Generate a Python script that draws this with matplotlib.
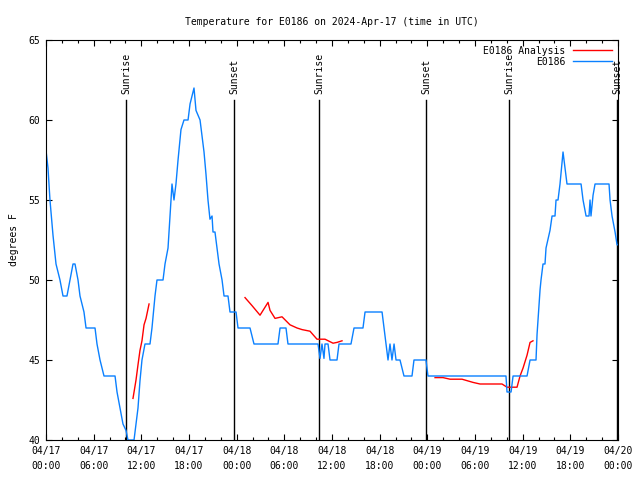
import numpy as np
import matplotlib
matplotlib.use('Agg')
import matplotlib.pyplot as plt

# hours since 2024-04-17 00:00 UTC
obs_hours = [0.0, 0.25, 0.5, 0.88, 1.26, 1.76, 2.14, 2.64, 3.02, 3.4, 3.65, 4.03, 4.28, 4.78, 5.04,
             6.17, 6.42, 6.8, 7.3, 8.69, 8.94, 9.32, 9.69, 10.07, 10.32, 11.08, 11.33, 11.58, 11.83,
             12.08, 12.46, 13.09, 13.34, 13.72, 13.97, 14.73, 14.98, 15.36, 15.61, 15.86, 16.11, 16.36,
             16.62, 16.99, 17.37, 17.88, 18.13, 18.63, 18.88, 19.39, 19.64, 19.89, 20.14, 20.39, 20.64,
             20.9, 21.02, 21.27, 21.53, 21.78, 22.16, 22.41, 22.91, 23.16, 23.92, 24.17, 25.68, 26.18,
             29.2, 29.46, 30.21, 30.46, 34.24, 34.49, 34.74, 34.99, 35.12, 35.5, 35.75, 36.63, 36.88,
             38.39, 38.77, 39.9, 40.16, 42.3, 42.55, 42.8, 43.05, 43.3, 43.55, 43.81, 44.06, 44.56,
             45.06, 46.07, 46.32, 47.83, 48.08, 57.9, 58.03, 58.54, 58.79, 60.55, 60.93, 61.68, 61.81,
             62.19, 62.31, 62.56, 62.81, 62.94, 63.44, 63.7, 64.07, 64.2, 64.45, 64.7, 65.08, 65.33,
             65.58, 67.35, 67.6, 67.98, 68.35, 68.48, 68.6, 68.86, 69.11, 69.49, 70.87, 71.0, 71.25,
             71.63, 71.88, 72.0]
obs_temp = [58.1, 57, 55, 52.8, 51, 50, 49, 49, 50, 51, 51, 50, 49, 48, 47,
            47, 46, 45, 44, 44, 43, 42, 41, 40.6, 40, 40, 41, 42, 43.7,
            45, 46, 46, 47, 49, 50, 50, 51, 52, 54, 56, 55, 56,
            57.5, 59.4, 60, 60, 61, 62, 60.6, 60, 59, 58, 56.6, 55, 53.8,
            54, 53, 53, 52, 51, 50, 49, 49, 48, 48, 47, 47, 46,
            46, 47, 47, 46, 46, 45.1, 46, 45.1, 46, 46, 45, 45, 46,
            46, 47, 47, 48, 48, 47, 46, 45, 46, 45, 46, 45, 45,
            44, 44, 45, 45, 44, 44, 43, 43, 44, 44, 45, 45, 46.6,
            49.4, 50, 51, 51, 52, 53.1, 54, 54, 55, 55, 56, 58, 57,
            56, 56, 55, 54, 54, 55, 54, 55.3, 56, 56, 56, 55, 54,
            53, 52.2, 52.2]

ana_hours = [10.95, 11.33, 11.58, 11.83, 12.08, 12.34, 12.59, 12.97, None,
             25.05, 25.93, 26.94, 27.95, 28.2, 28.83, 29.71, 30.71, 31.6, 32.23, 33.23, 34.11, 35.12,
             36.13, 36.63, 37.26, None,
             48.97, 49.97, 50.86, 52.37, 53.75, 54.63, 57.4, 58.03, 59.29, 59.67, 60.05, 60.55, 60.93, 61.3]
ana_temp = [42.6, 43.75, 44.7, 45.6, 46.2, 47.2, 47.6, 48.5, None,
            48.9, 48.4, 47.8, 48.6, 48.1, 47.6, 47.7, 47.2, 47.0, 46.9, 46.8, 46.3, 46.3,
            46.05, 46.1, 46.2, None,
            43.9, 43.9, 43.8, 43.8, 43.6, 43.5, 43.5, 43.3, 43.3, 44, 44.5, 45.3, 46.1, 46.2]

sun_hours = [10.07, 23.67, 34.37, 47.83, 58.3, 71.9]
sun_labels = ['Sunrise', 'Sunset', 'Sunrise', 'Sunset', 'Sunrise', 'Sunset']

tick_hours = [0, 6, 12, 18, 24, 30, 36, 42, 48, 54, 60, 66, 72]
tick_labels = ['04/17\n00:00', '04/17\n06:00', '04/17\n12:00', '04/17\n18:00',
               '04/18\n00:00', '04/18\n06:00', '04/18\n12:00', '04/18\n18:00',
               '04/19\n00:00', '04/19\n06:00', '04/19\n12:00', '04/19\n18:00',
               '04/20\n00:00']

plt.rcParams['font.family'] = ['DejaVu Sans Mono']
plt.rcParams['font.size'] = 7

fig = plt.figure(figsize=(6.4, 4.8), dpi=100)
ax = fig.add_axes([46/640, 1-440/480, 572/640, 400/480])

ah = np.array([np.nan if v is None else v for v in ana_hours], dtype=float)
at = np.array([np.nan if v is None else v for v in ana_temp], dtype=float)

for h, lab in zip(sun_hours, sun_labels):
    ax.plot([h, h], [40, 61.25], color='black', lw=1.0)
    ax.text(h, 61.6, lab, rotation=90, ha='center', va='bottom', fontsize=7)

ax.plot(ah, at, color='#ff0000', lw=1.0, label='E0186 Analysis')
ax.plot(obs_hours, obs_temp, color='#0a80ff', lw=1.0, label='E0186')

ax.set_xlim(0, 72)
ax.set_ylim(40, 65)
ax.set_xticks(tick_hours)
ax.set_xticklabels(tick_labels, linespacing=1.7)
ax.set_xticks(np.arange(0, 73, 2), minor=True)
ax.set_yticks([40, 45, 50, 55, 60, 65])
ax.tick_params(direction='in', top=True, right=True, length=4, width=0.8, pad=4)
ax.tick_params(which='minor', direction='in', top=True, length=2.5, width=0.8)
for s in ax.spines.values():
    s.set_linewidth(0.8)

ax.set_ylabel('degrees F', fontsize=7, labelpad=7)
ax.set_title('Temperature for E0186 on 2024-Apr-17 (time in UTC)', fontsize=7, pad=11)

ax.legend(loc='upper right', frameon=False, markerfirst=False, handlelength=4,
          fontsize=7, borderaxespad=0.2, labelspacing=0.1, handletextpad=0.8)

fig.savefig('out.png', dpi=100)
